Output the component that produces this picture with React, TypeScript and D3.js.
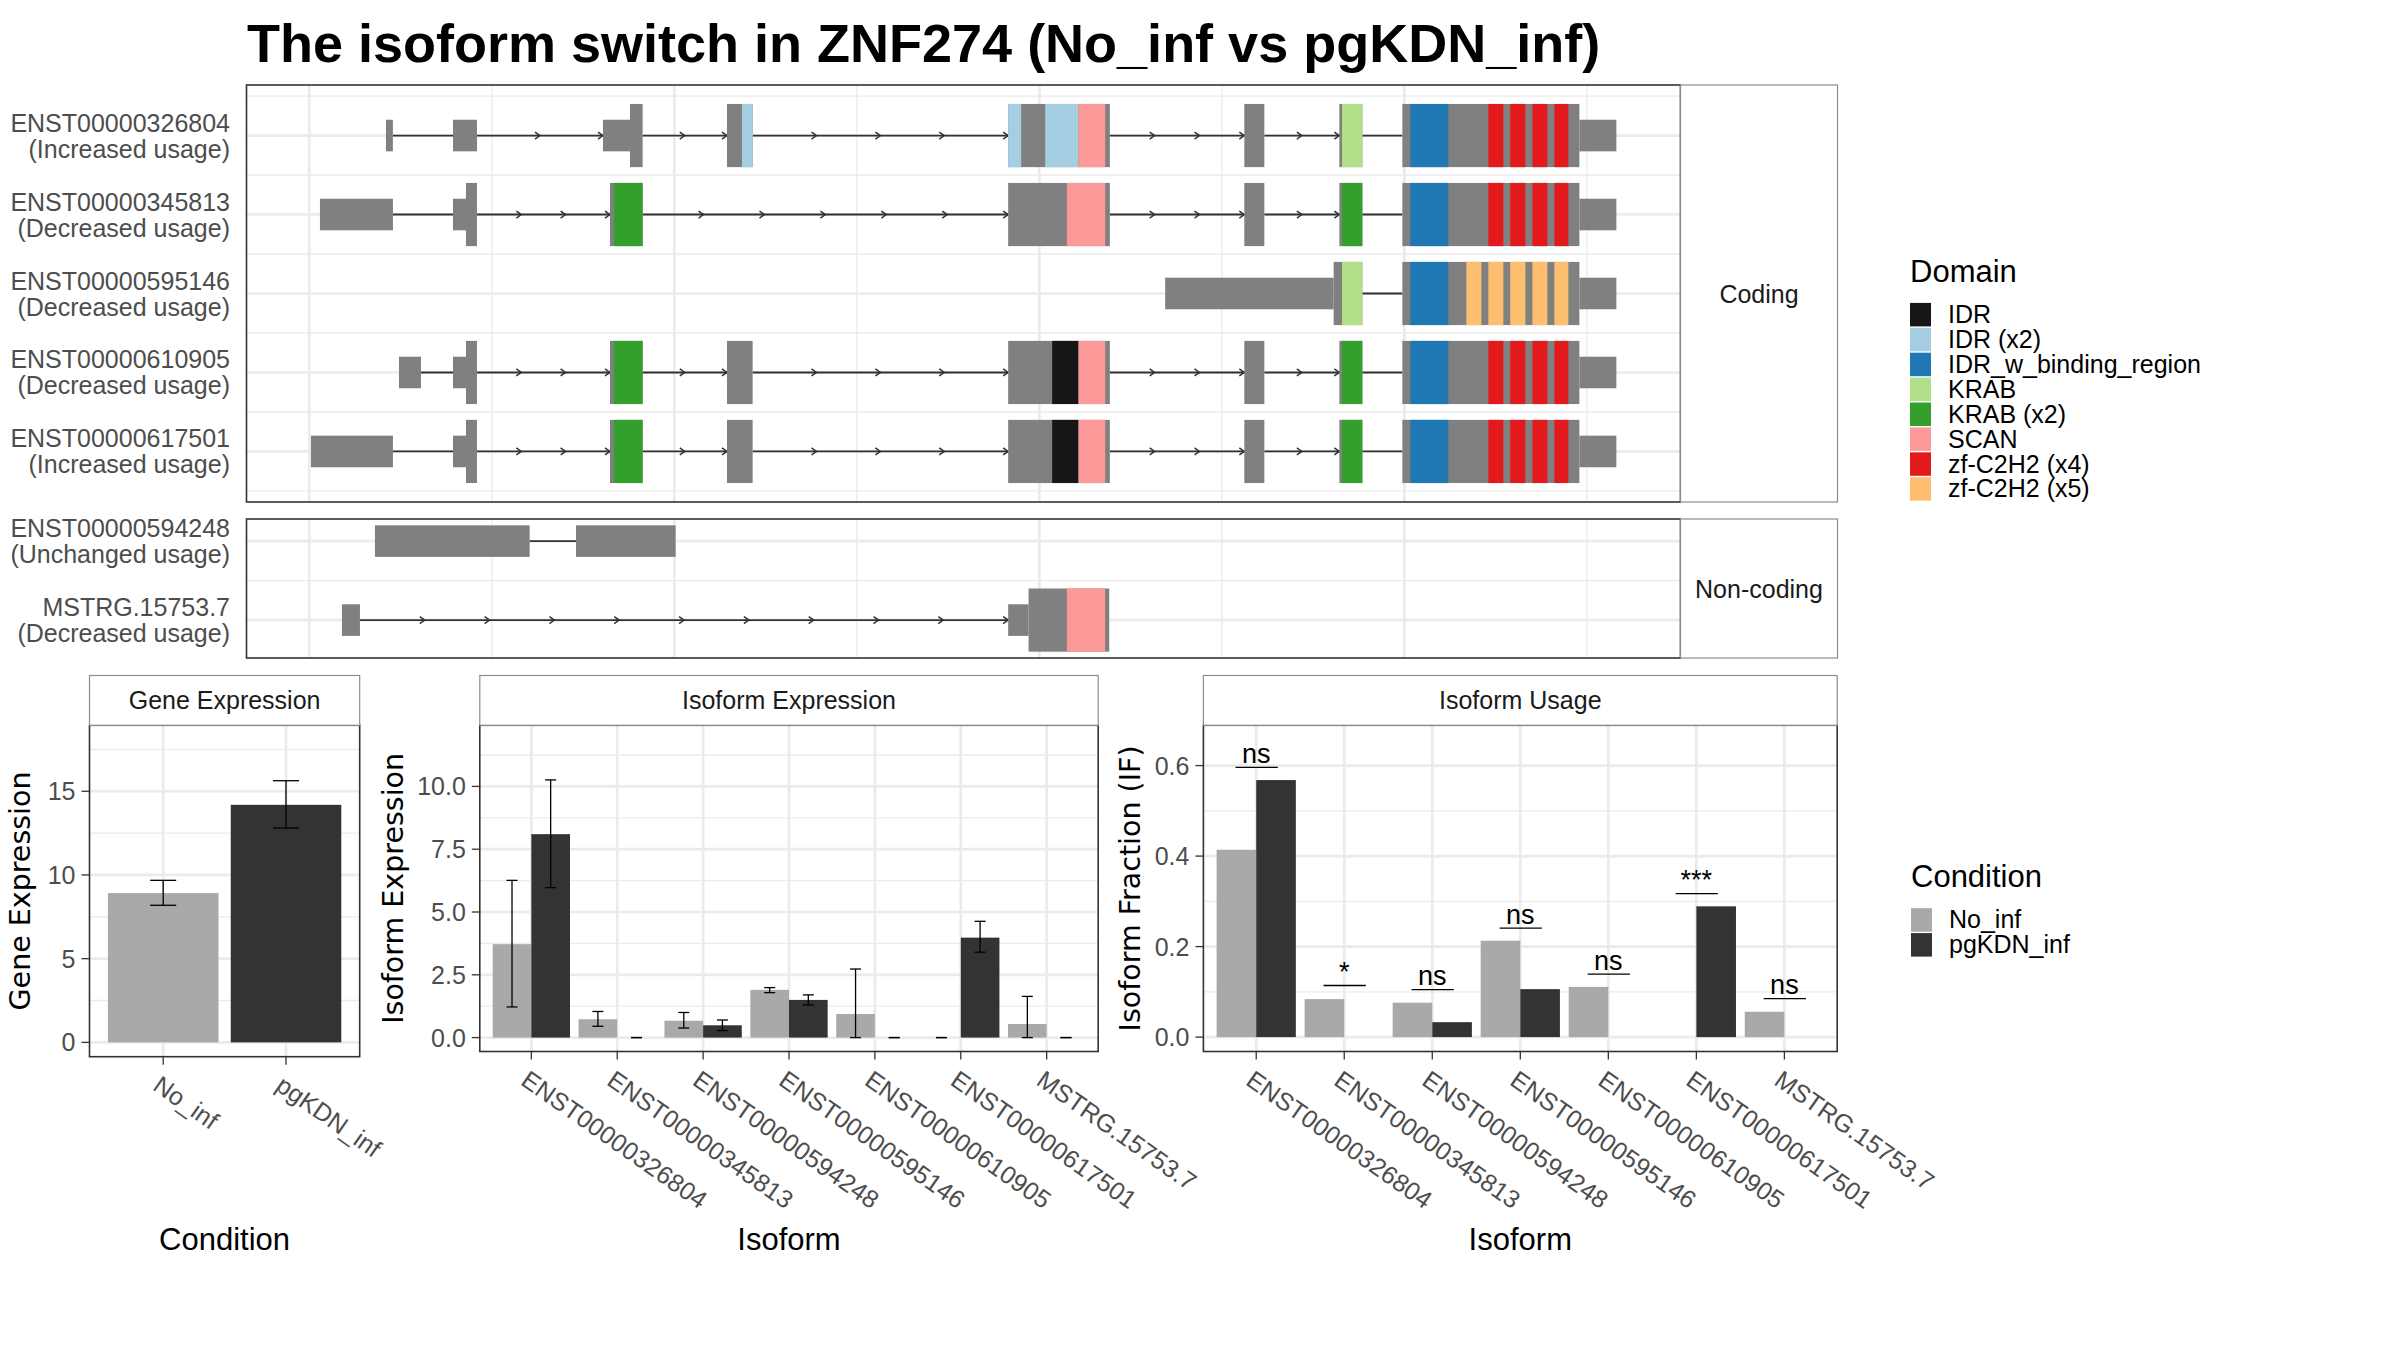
import * as d3 from 'd3';
import React from 'react';

document.body.style.margin = '0';

const width = 2400;
const height = 1350;
const sans = '"Liberation Sans", Arial, Helvetica, sans-serif';
const wide = '"DejaVu Sans", Verdana, sans-serif';
const gridCol = '#EBEBEB';
const exonCol = '#808080';
const axisTextCol = '#4D4D4D';

type Exon = [number, number, 'utr' | 'cds'];
type Dom = [number, number, string];

// ---- transcript structures (relative genomic position in bp, introns rescaled) ----
const codingNames = ['ENST00000326804', 'ENST00000345813', 'ENST00000595146', 'ENST00000610905', 'ENST00000617501'];
const codingUsage = ['Increased usage', 'Decreased usage', 'Decreased usage', 'Decreased usage', 'Increased usage'];
const nonCodingNames = ['ENST00000594248', 'MSTRG.15753.7'];
const nonCodingUsage = ['Unchanged usage', 'Decreased usage'];

const exons326804: Exon[] = [
  [2100, 2290, 'utr'], [3937, 4594, 'utr'], [8046, 8785, 'utr'], [8785, 9132, 'cds'],
  [11443, 12146, 'cds'], [19146, 21932, 'cds'], [25616, 26164, 'cds'], [28219, 28849, 'cds'],
  [29945, 34795, 'cds'], [34795, 35808, 'utr'],
];
const exons345813: Exon[] = [
  [292, 2292, 'utr'], [3937, 4292, 'utr'], [4292, 4594, 'cds'], [8237, 9132, 'cds'],
  [19146, 21932, 'cds'], [25616, 26164, 'cds'], [28219, 28849, 'cds'],
  [29945, 34795, 'cds'], [34795, 35808, 'utr'],
];
const exons595146: Exon[] = [
  [23447, 28063, 'utr'], [28063, 28849, 'cds'], [29945, 34795, 'cds'], [34795, 35808, 'utr'],
];
const exons610905: Exon[] = [
  [2457, 3059, 'utr'], [3937, 4292, 'utr'], [4292, 4594, 'cds'], [8237, 9132, 'cds'],
  [11443, 12146, 'cds'], [19146, 21932, 'cds'], [25616, 26164, 'cds'], [28219, 28849, 'cds'],
  [29945, 34795, 'cds'], [34795, 35808, 'utr'],
];
const exons617501: Exon[] = [
  [46, 2292, 'utr'], [3937, 4292, 'utr'], [4292, 4594, 'cds'], [8237, 9132, 'cds'],
  [11443, 12146, 'cds'], [19146, 21932, 'cds'], [25616, 26164, 'cds'], [28219, 28849, 'cds'],
  [29945, 34795, 'cds'], [34795, 35808, 'utr'],
];
const exons594248: Exon[] = [[1799, 6037, 'utr'], [7306, 10037, 'utr']];
const exonsMSTRG: Exon[] = [[895, 1388, 'utr'], [19146, 19705, 'utr'], [19705, 21915, 'cds']];

const zf4: Dom[] = [[32301, 32712, 'zf-C2H2 (x4)'], [32900, 33315, 'zf-C2H2 (x4)'], [33507, 33918, 'zf-C2H2 (x4)'], [34110, 34493, 'zf-C2H2 (x4)']];
const zf5: Dom[] = [[31699, 32110, 'zf-C2H2 (x5)'], [32301, 32712, 'zf-C2H2 (x5)'], [32900, 33315, 'zf-C2H2 (x5)'], [33507, 33918, 'zf-C2H2 (x5)'], [34110, 34493, 'zf-C2H2 (x5)']];
const idrBinding: Dom = [30164, 31205, 'IDR_w_binding_region'];

const domains326804: Dom[] = [
  [11854, 12146, 'IDR (x2)'], [19146, 19502, 'IDR (x2)'], [20160, 21073, 'IDR (x2)'],
  [21073, 21804, 'SCAN'], [28292, 28849, 'KRAB'], idrBinding, ...zf4,
];
const domains345813: Dom[] = [[8347, 9132, 'KRAB (x2)'], [20755, 21804, 'SCAN'], [28292, 28849, 'KRAB (x2)'], idrBinding, ...zf4];
const domains595146: Dom[] = [[28292, 28849, 'KRAB'], idrBinding, ...zf5];
const domains610905: Dom[] = [[8347, 9132, 'KRAB (x2)'], [20352, 21073, 'IDR'], [21073, 21804, 'SCAN'], [28292, 28849, 'KRAB (x2)'], idrBinding, ...zf4];
const domains617501: Dom[] = domains610905;
const domainsMSTRG: Dom[] = [[20755, 21804, 'SCAN']];

// number of direction arrows drawn on each intron
const arrows326804 = [0, 2, 2, 4, 3, 2, 0];
const arrows345813 = [0, 3, 6, 3, 2, 0];
const arrows595146 = [0];
const arrows610905 = [0, 3, 2, 4, 3, 2, 0];
const arrows617501 = [0, 3, 2, 4, 3, 2, 0];
const arrows594248 = [0];
const arrowsMSTRG = [10];

const domainNames = ['IDR', 'IDR (x2)', 'IDR_w_binding_region', 'KRAB', 'KRAB (x2)', 'SCAN', 'zf-C2H2 (x4)', 'zf-C2H2 (x5)'];
const domainColors = ['#161616', '#A6CEE3', '#1F78B4', '#B2DF8A', '#33A02C', '#FB9A99', '#E31A1C', '#FDBF6F'];

// ---- expression data ----
const conditions = ['No_inf', 'pgKDN_inf'];
const conditionColors = ['#A9A9A9', '#333333'];
const geMean = [8.92, 14.19];
const geLow = [8.19, 12.8];
const geHigh = [9.68, 15.63];

const isoforms = ['ENST00000326804', 'ENST00000345813', 'ENST00000594248', 'ENST00000595146', 'ENST00000610905', 'ENST00000617501', 'MSTRG.15753.7'];
const ieNoInf = [3.72, 0.73, 0.67, 1.9, 0.94, 0, 0.54];
const ieNoInfLow = [1.22, 0.45, 0.38, 1.79, 0, 0, 0];
const ieNoInfHigh = [6.26, 1.04, 1.0, 1.99, 2.73, 0, 1.64];
const iePg = [8.1, 0, 0.49, 1.5, 0, 3.98, 0];
const iePgLow = [5.97, 0, 0.28, 1.3, 0, 3.4, 0];
const iePgHigh = [10.26, 0, 0.7, 1.7, 0, 4.63, 0];

const iuNoInf = [0.414, 0.084, 0.076, 0.213, 0.111, 0, 0.056];
const iuPg = [0.568, 0, 0.033, 0.106, 0, 0.289, 0];
const sigLabels = ['ns', '*', 'ns', 'ns', 'ns', '***', 'ns'];
const sigLevel = [0.596, 0.114, 0.105, 0.241, 0.139, 0.317, 0.085];

const codingRows = [
  { exons: exons326804, domains: domains326804, arrows: arrows326804 },
  { exons: exons345813, domains: domains345813, arrows: arrows345813 },
  { exons: exons595146, domains: domains595146, arrows: arrows595146 },
  { exons: exons610905, domains: domains610905, arrows: arrows610905 },
  { exons: exons617501, domains: domains617501, arrows: arrows617501 },
].map((r, i) => ({ ...r, name: codingNames[i], usage: codingUsage[i] }));

const nonCodingRows = [
  { exons: exons594248, domains: [] as Dom[], arrows: arrows594248 },
  { exons: exonsMSTRG, domains: domainsMSTRG, arrows: arrowsMSTRG },
].map((r, i) => ({ ...r, name: nonCodingNames[i], usage: nonCodingUsage[i] }));

const domainColor = d3.scaleOrdinal<string, string>().domain(domainNames).range(domainColors);

const txLeft = 246.5;
const txRight = 1680.5;
const stripRight = 1837.5;
const xTx = d3.scaleLinear().domain([-1720, 37565]).range([txLeft, txRight]);
const xGrid = d3.range(0, 35001, 5000);

function introns(exons: Exon[]) {
  const s = [...exons].sort((a, b) => a[0] - b[0]);
  const out: [number, number][] = [];
  for (let i = 1; i < s.length; i++) {
    if (s[i][0] > s[i - 1][1]) out.push([s[i - 1][1], s[i][0]]);
  }
  return out;
}

function TxPanel({ rows, top, bottom, yDomain, label }: any) {
  const n = rows.length;
  const y = d3.scaleLinear().domain(yDomain).range([bottom, top]);
  const majors = d3.range(1, n + 1);
  const minors = d3.range(0.5, n + 1, 1).filter((v) => v > yDomain[0] && v < yDomain[1]);
  const hCds = y(0) - y(0.4);
  const hUtr = y(0) - y(0.2);
  return (
    <g>
      <rect x={txLeft} y={top} width={txRight - txLeft} height={bottom - top} fill="#fff" />
      {xGrid.map((v) => (
        <line key={v} x1={xTx(v)} x2={xTx(v)} y1={top} y2={bottom} stroke={gridCol} strokeWidth={v % 10000 === 0 ? 2.7 : 1.35} />
      ))}
      {minors.map((v) => (
        <line key={'m' + v} x1={txLeft} x2={txRight} y1={y(v)} y2={y(v)} stroke={gridCol} strokeWidth={1.35} />
      ))}
      {majors.map((v) => (
        <line key={'M' + v} x1={txLeft} x2={txRight} y1={y(v)} y2={y(v)} stroke={gridCol} strokeWidth={2.7} />
      ))}
      {rows.map((r: any, i: number) => {
        const cy = y(n - i);
        const ints = introns(r.exons);
        return (
          <g key={r.name}>
            {ints.map(([a, b], k) => {
              const cnt = r.arrows[k] || 0;
              return (
                <g key={k}>
                  <line x1={xTx(a)} x2={xTx(b)} y1={cy} y2={cy} stroke="#333" strokeWidth={1.8} />
                  {d3.range(1, cnt + 1).map((j) => {
                    const ax = xTx(a + ((b - a) * j) / cnt);
                    return (
                      <path key={j} d={`M${ax - 5},${cy - 3.5}L${ax},${cy}L${ax - 5},${cy + 3.5}`} fill="none" stroke="#333" strokeWidth={1.5} />
                    );
                  })}
                </g>
              );
            })}
            {r.exons.map((e: Exon, k: number) => {
              const h = e[2] === 'cds' ? hCds : hUtr;
              return <rect key={'e' + k} x={xTx(e[0])} width={xTx(e[1]) - xTx(e[0])} y={cy - h} height={2 * h} fill={exonCol} />;
            })}
            {r.domains.map((d: Dom, k: number) => (
              <rect key={'d' + k} x={xTx(d[0])} width={xTx(d[1]) - xTx(d[0])} y={cy - hCds} height={2 * hCds} fill={domainColor(d[2])} />
            ))}
            <text x={230} y={cy - 4} textAnchor="end" fontFamily={sans} fontSize={25} fill={axisTextCol}>{r.name}</text>
            <text x={230} y={cy + 22} textAnchor="end" fontFamily={sans} fontSize={25} fill={axisTextCol}>({r.usage})</text>
          </g>
        );
      })}
      <rect x={txLeft} y={top} width={txRight - txLeft} height={bottom - top} fill="none" stroke="#333" strokeWidth={1.6} />
      <rect x={txRight} y={top} width={stripRight - txRight} height={bottom - top} fill="#fff" stroke="#8C8C8C" strokeWidth={1.2} />
      <text x={(txRight + stripRight) / 2} y={(top + bottom) / 2 + 9} textAnchor="middle" fontFamily={sans} fontSize={25} fill="#1A1A1A">{label}</text>
    </g>
  );
}

const stripTop = 675.5;
const panelTop = 725.3;

function BarPanel({ left, right, bottom, title, cats, yDomain, yTicks, yMinor, fmt, yTitle, yTitleX, xTitle, draw }: any) {
  const x = d3.scalePoint<string>().domain(cats).range([left, right]).padding(0.6);
  const y = d3.scaleLinear().domain(yDomain).range([bottom, panelTop]);
  return (
    <g>
      <rect x={left} y={panelTop} width={right - left} height={bottom - panelTop} fill="#fff" />
      {yMinor.map((v: number) => (
        <line key={'m' + v} x1={left} x2={right} y1={y(v)} y2={y(v)} stroke={gridCol} strokeWidth={1.35} />
      ))}
      {yTicks.map((v: number) => (
        <line key={'M' + v} x1={left} x2={right} y1={y(v)} y2={y(v)} stroke={gridCol} strokeWidth={2.7} />
      ))}
      {cats.map((c: string) => (
        <line key={'v' + c} x1={x(c)} x2={x(c)} y1={panelTop} y2={bottom} stroke={gridCol} strokeWidth={2.7} />
      ))}
      {draw(x, y, x.step())}
      <rect x={left} y={panelTop} width={right - left} height={bottom - panelTop} fill="none" stroke="#333" strokeWidth={1.6} />
      <rect x={left} y={stripTop} width={right - left} height={panelTop - stripTop} fill="#fff" stroke="#8C8C8C" strokeWidth={1.2} />
      <text x={(left + right) / 2} y={(stripTop + panelTop) / 2 + 9} textAnchor="middle" fontFamily={sans} fontSize={25} fill="#1A1A1A">{title}</text>
      {yTicks.map((v: number) => (
        <g key={'t' + v}>
          <line x1={left - 8} x2={left} y1={y(v)} y2={y(v)} stroke="#333" strokeWidth={1.3} />
          <text x={left - 14} y={y(v) + 9} textAnchor="end" fontFamily={sans} fontSize={25} fill={axisTextCol}>{fmt(v)}</text>
        </g>
      ))}
      {cats.map((c: string) => (
        <g key={'x' + c}>
          <line x1={x(c)} x2={x(c)} y1={bottom} y2={bottom + 8} stroke="#333" strokeWidth={1.3} />
          <text transform={`translate(${x(c)! - 1},${bottom + 17}) rotate(35)`} dy="0.75em" fontFamily={sans} fontSize={25} fill={axisTextCol}>{c}</text>
        </g>
      ))}
      <text transform={`translate(${yTitleX},${(panelTop + bottom) / 2}) rotate(-90)`} textAnchor="middle" fontFamily={wide} fontSize={28.5} fill="#000">{yTitle}</text>
      <text x={(left + right) / 2} y={1250} textAnchor="middle" fontFamily={sans} fontSize={31} fill="#000">{xTitle}</text>
    </g>
  );
}

function ErrorBar({ x, y0, y1, w }: { x: number; y0: number; y1: number; w: number }) {
  return (
    <g stroke="#000" strokeWidth={1.3}>
      <line x1={x} x2={x} y1={y0} y2={y1} />
      <line x1={x - w / 2} x2={x + w / 2} y1={y0} y2={y0} />
      <line x1={x - w / 2} x2={x + w / 2} y1={y1} y2={y1} />
    </g>
  );
}

function Legend({ title, x, y, names, colors }: any) {
  return (
    <g>
      <text x={x} y={y} fontFamily={sans} fontSize={31} fill="#000">{title}</text>
      {names.map((nm: string, i: number) => {
        const ky = y + 20.5 + i * 24.9;
        return (
          <g key={nm}>
            <rect x={x} y={ky + 0.7} width={21} height={23.5} fill={colors[i]} />
            <text x={x + 38} y={ky + 12.4 + 8.5} fontFamily={sans} fontSize={25} fill="#000">{nm}</text>
          </g>
        );
      })}
    </g>
  );
}

export default function App() {
  const ieSeries = [
    { v: ieNoInf, lo: ieNoInfLow, hi: ieNoInfHigh, col: conditionColors[0], off: -1 },
    { v: iePg, lo: iePgLow, hi: iePgHigh, col: conditionColors[1], off: 1 },
  ];
  const iuSeries = [
    { v: iuNoInf, col: conditionColors[0], off: -1 },
    { v: iuPg, col: conditionColors[1], off: 1 },
  ];
  return (
    <svg width={width} height={height} viewBox={`0 0 ${width} ${height}`} style={{ display: 'block', background: '#fff' }}>
      <rect width={width} height={height} fill="#fff" />
      <text x={247} y={61.7} fontFamily={sans} fontWeight="bold" fontSize={54} fill="#000">
        The isoform switch in ZNF274 (No_inf vs pgKDN_inf)
      </text>

      <TxPanel rows={codingRows} top={85} bottom={502} yDomain={[0.36, 5.64]} label="Coding" />
      <TxPanel rows={nonCodingRows} top={519} bottom={658} yDomain={[0.52, 2.28]} label="Non-coding" />

      <Legend title="Domain" x={1910} y={281.7} names={domainNames} colors={domainColors} />
      <Legend title="Condition" x={1911} y={887} names={conditions} colors={conditionColors} />

      <BarPanel
        left={89.5} right={359.7} bottom={1056.7} title="Gene Expression" cats={conditions}
        yDomain={[-0.855, 18.94]} yTicks={[0, 5, 10, 15]} yMinor={[2.5, 7.5, 12.5, 17.5]} fmt={(v: number) => String(v)}
        yTitle="Gene Expression" yTitleX={30} xTitle="Condition"
        draw={(x: any, y: any, step: number) =>
          conditions.map((c, i) => (
            <g key={c}>
              <rect x={x(c) - step * 0.45} width={step * 0.9} y={y(geMean[i])} height={y(0) - y(geMean[i])} fill={conditionColors[i]} />
              <ErrorBar x={x(c)} y0={y(geLow[i])} y1={y(geHigh[i])} w={26} />
            </g>
          ))
        }
      />

      <BarPanel
        left={479.8} right={1098.2} bottom={1051.5} title="Isoform Expression" cats={isoforms}
        yDomain={[-0.554, 12.434]} yTicks={[0, 2.5, 5, 7.5, 10]} yMinor={[1.25, 3.75, 6.25, 8.75, 11.25]} fmt={d3.format('.1f')}
        yTitle="Isoform Expression" yTitleX={403} xTitle="Isoform"
        draw={(x: any, y: any, step: number) =>
          isoforms.map((c, i) => (
            <g key={c}>
              {ieSeries.map((s, k) => {
                const cx = x(c) + s.off * step * 0.225;
                return (
                  <g key={k}>
                    {s.v[i] > 0 && <rect x={cx - step * 0.225} width={step * 0.45} y={y(s.v[i])} height={y(0) - y(s.v[i])} fill={s.col} />}
                    <ErrorBar x={cx} y0={y(s.lo[i])} y1={y(s.hi[i])} w={11} />
                  </g>
                );
              })}
            </g>
          ))
        }
      />

      <BarPanel
        left={1203.4} right={1837.2} bottom={1051.5} title="Isoform Usage" cats={isoforms}
        yDomain={[-0.0318, 0.689]} yTicks={[0, 0.2, 0.4, 0.6]} yMinor={[0.1, 0.3, 0.5]} fmt={d3.format('.1f')}
        yTitle="Isoform Fraction (IF)" yTitleX={1140} xTitle="Isoform"
        draw={(x: any, y: any, step: number) =>
          isoforms.map((c, i) => (
            <g key={c}>
              {iuSeries.map((s, k) => {
                const cx = x(c) + s.off * step * 0.225;
                return s.v[i] > 0 ? (
                  <rect key={k} x={cx - step * 0.225} width={step * 0.45} y={y(s.v[i])} height={y(0) - y(s.v[i])} fill={s.col} />
                ) : null;
              })}
              <line x1={x(c) - step * 0.235} x2={x(c) + step * 0.245} y1={y(sigLevel[i])} y2={y(sigLevel[i])} stroke="#000" strokeWidth={1.3} />
              <text x={x(c)} y={y(sigLevel[i]) - 4.5} textAnchor="middle" fontFamily={sans} fontSize={27} fill="#000">{sigLabels[i]}</text>
            </g>
          ))
        }
      />
    </svg>
  );
}
